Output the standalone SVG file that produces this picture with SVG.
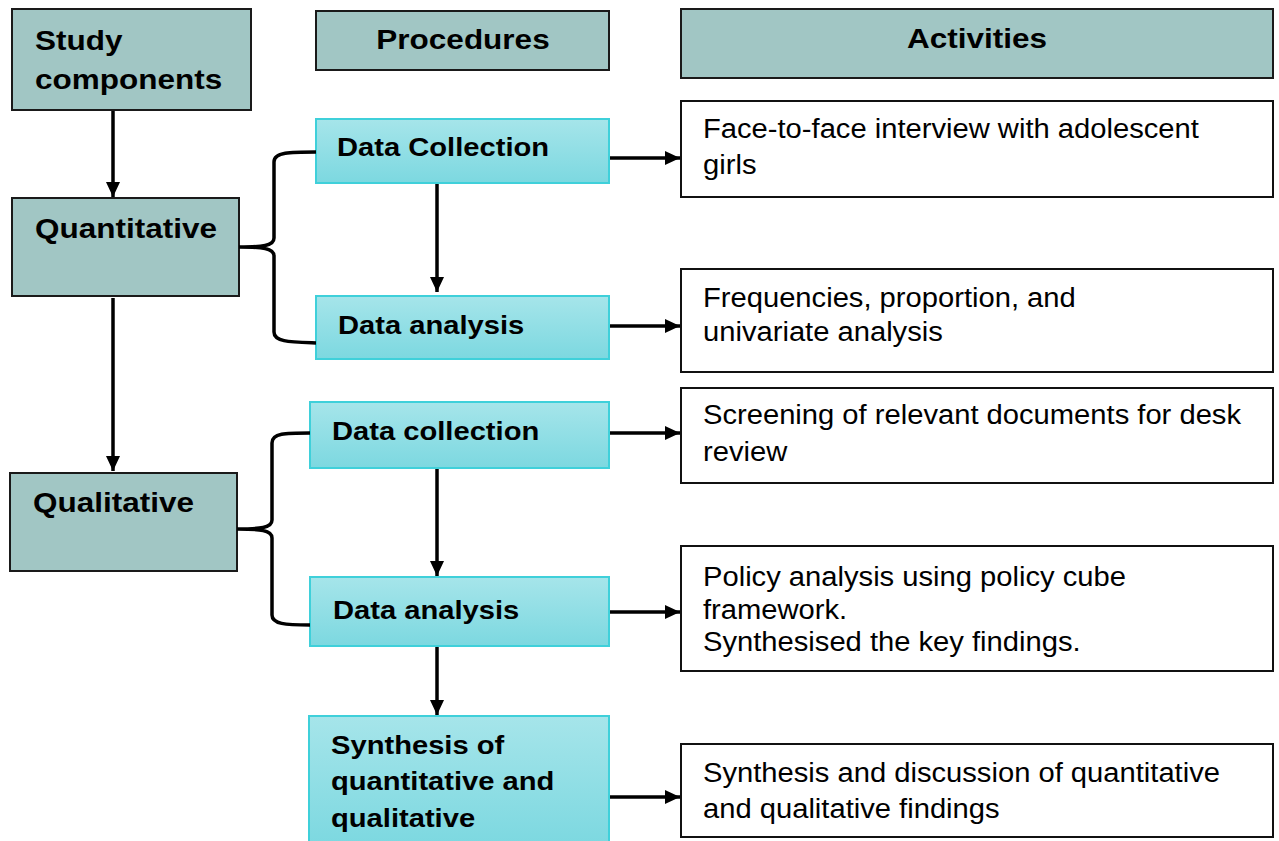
<svg xmlns="http://www.w3.org/2000/svg" width="1279" height="841" viewBox="0 0 1279 841">
<defs>
<linearGradient id="cy" x1="0" y1="0" x2="0" y2="1">
<stop offset="0" stop-color="#a6e5ea"/>
<stop offset="1" stop-color="#7cd8e0"/>
</linearGradient>
<marker id="ah" markerWidth="16" markerHeight="16" refX="15" refY="8" orient="auto" markerUnits="userSpaceOnUse">
<path d="M0,1 L15,8 L0,15 Z" fill="#000"/>
</marker>
<style>
.hdr{fill:#a1c6c4;stroke:#1a1a1a;stroke-width:2}
.cy{fill:url(#cy);stroke:#3fd0da;stroke-width:2}
.act{fill:#fff;stroke:#111;stroke-width:2}
.bt{font-family:"Liberation Sans",Arial,sans-serif;font-weight:bold;font-size:28px;fill:#000}
.ct{font-family:"Liberation Sans",Arial,sans-serif;font-weight:bold;font-size:26.5px;fill:#000}
.rt{font-family:"Liberation Sans",Arial,sans-serif;font-size:27px;fill:#000}
.ln{stroke:#000;stroke-width:3.5;fill:none}
</style>
</defs>
<g id="study"><rect class="hdr" x="12" y="9" width="239" height="101"/>
<text class="bt" transform="translate(35,50) scale(1.125,1)">Study</text>
<text class="bt" transform="translate(35,89) scale(1.125,1)">components</text></g>
<g id="procedures"><rect class="hdr" x="316" y="11" width="293" height="59"/>
<text class="bt" text-anchor="middle" transform="translate(463,49) scale(1.125,1)">Procedures</text></g>
<g id="activities"><rect class="hdr" x="681" y="9" width="592" height="69"/>
<text class="bt" text-anchor="middle" transform="translate(977,48) scale(1.125,1)">Activities</text></g>
<g id="quant"><rect class="hdr" x="12" y="198" width="227" height="98"/>
<text class="bt" transform="translate(35,238) scale(1.125,1)">Quantitative</text></g>
<g id="qual"><rect class="hdr" x="10" y="473" width="227" height="98"/>
<text class="bt" transform="translate(33,512) scale(1.125,1)">Qualitative</text></g>

<g id="dc1"><rect class="cy" x="316" y="119" width="293" height="64"/>
<text class="ct" transform="translate(337,156) scale(1.1,1)">Data Collection</text></g>
<g id="da1"><rect class="cy" x="316" y="296" width="293" height="63"/>
<text class="ct" transform="translate(338,334) scale(1.1,1)">Data analysis</text></g>
<g id="dc2"><rect class="cy" x="310" y="402" width="299" height="66"/>
<text class="ct" transform="translate(332,440) scale(1.1,1)">Data collection</text></g>
<g id="da2"><rect class="cy" x="310" y="577" width="299" height="69"/>
<text class="ct" transform="translate(333,619) scale(1.1,1)">Data analysis</text></g>
<g id="syn"><rect class="cy" x="309" y="716" width="300" height="130"/>
<text class="ct" transform="translate(331,754) scale(1.1,1)">Synthesis of</text>
<text class="ct" transform="translate(331,790) scale(1.1,1)">quantitative and</text>
<text class="ct" transform="translate(331,827) scale(1.1,1)">qualitative</text></g>

<g id="a1"><rect class="act" x="681" y="101" width="592" height="96"/>
<text class="rt" transform="translate(703,138) scale(1.08,1)">Face-to-face interview with adolescent</text>
<text class="rt" transform="translate(703,174) scale(1.08,1)">girls</text></g>
<g id="a2"><rect class="act" x="681" y="269" width="592" height="103"/>
<text class="rt" transform="translate(703,307) scale(1.08,1)">Frequencies, proportion, and</text>
<text class="rt" transform="translate(703,341) scale(1.08,1)">univariate analysis</text></g>
<g id="a3"><rect class="act" x="681" y="388" width="592" height="95"/>
<text class="rt" transform="translate(703,424) scale(1.08,1)">Screening of relevant documents for desk</text>
<text class="rt" transform="translate(703,461) scale(1.08,1)">review</text></g>
<g id="a4"><rect class="act" x="681" y="546" width="592" height="125"/>
<text class="rt" transform="translate(703,586) scale(1.08,1)">Policy analysis using policy cube</text>
<text class="rt" transform="translate(703,619) scale(1.08,1)">framework.</text>
<text class="rt" transform="translate(703,651) scale(1.08,1)">Synthesised the key findings.</text></g>
<g id="a5"><rect class="act" x="681" y="744" width="592" height="93"/>
<text class="rt" transform="translate(703,782) scale(1.08,1)">Synthesis and discussion of quantitative</text>
<text class="rt" transform="translate(703,818) scale(1.08,1)">and qualitative findings</text></g>

<g id="connectors">
<line class="ln" x1="113" y1="111" x2="113" y2="197" marker-end="url(#ah)"/>
<line class="ln" x1="113" y1="298" x2="113" y2="471" marker-end="url(#ah)"/>
<line class="ln" x1="437" y1="184" x2="437" y2="292" marker-end="url(#ah)"/>
<line class="ln" x1="437" y1="469" x2="437" y2="576" marker-end="url(#ah)"/>
<line class="ln" x1="437" y1="647" x2="437" y2="715" marker-end="url(#ah)"/>
<line class="ln" x1="610" y1="158" x2="680" y2="158" marker-end="url(#ah)"/>
<line class="ln" x1="610" y1="326" x2="680" y2="326" marker-end="url(#ah)"/>
<line class="ln" x1="610" y1="433" x2="680" y2="433" marker-end="url(#ah)"/>
<line class="ln" x1="610" y1="612" x2="680" y2="612" marker-end="url(#ah)"/>
<line class="ln" x1="610" y1="797" x2="680" y2="797" marker-end="url(#ah)"/>
<path class="ln" d="M316,152 C290,152 274,152 274,162 L274,238 C274,246 262,247 239,247 C262,247 274,248 274,256 L274,332 C274,342 290,342 316,343"/>
<path class="ln" d="M310,433 C285,433 272,433 272,443 L272,520 C272,528 260,529 237,529 C260,529 272,530 272,538 L272,615 C272,624 285,625 310,625"/>
</g>
</svg>
